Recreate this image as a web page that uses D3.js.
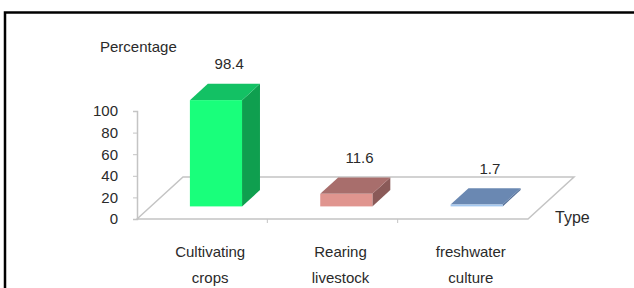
<!DOCTYPE html>
<html lang="en">
<head>
    <meta charset="UTF-8">
    <title>Percentage by Type</title>
    <script src="https://cdn.jsdelivr.net/npm/d3@7"></script>
    <style>
        body { margin: 0; background: #fff; }
        text { font-family: "Liberation Sans", Arial, sans-serif; fill: #2a2a2a; }
    </style>
</head>
<body>
    <script>
        // data
        const categories = ['Cultivating crops', 'Rearing livestock', 'freshwater culture']
        const labelLines = [['Cultivating', 'crops'], ['Rearing', 'livestock'], ['freshwater', 'culture']]
        const values = [98.4, 11.6, 1.7]
        const yTicks = [0, 20, 40, 60, 80, 100]

        const faceColors = [
            { front: '#19ff7b', top: '#13c164', side: '#0f9f4f' },
            { front: '#e0958f', top: '#a86e6c', side: '#8a5a58' },
            { front: '#a4c8f0', top: '#6a88b2', side: '#56719a' }
        ]

        const w = 634
        const h = 288

        // floor depth (front-left -> back-left)
        const depth = { dx: 46, dy: -42 }
        // bars sit between these fractions of the floor depth
        const barFront = 0.3
        const barBack = 0.69

        const svg = d3.select('body').append('svg')
            .attr('width', w)
            .attr('height', h)

        // outer frame
        svg.append('rect')
            .attr('x', 5).attr('y', 12.5)
            .attr('width', 800).attr('height', 400)
            .attr('fill', 'none')
            .attr('stroke', '#000')
            .attr('stroke-width', 2.5)

        const xScale = d3.scaleBand()
            .domain(categories)
            .range([137, 528])

        const yScale = d3.scaleLinear()
            .domain([0, 100])
            .range([219, 111])

        const floorY = yScale(0)
        const x0 = xScale.range()[0]
        const x1 = xScale.range()[1]

        // floor outline
        const floor = [
            [x0, floorY],
            [x0 + depth.dx, floorY + depth.dy],
            [x1 + depth.dx, floorY + depth.dy],
            [x1, floorY]
        ]
        svg.append('path')
            .attr('d', 'M' + floor.join('L') + 'Z')
            .attr('fill', 'none')
            .attr('stroke', '#c4c4c4')
            .attr('stroke-width', 1.5)

        // category separators on the front edge
        svg.selectAll('.xtick')
            .data(categories.slice(1))
            .enter()
            .append('line')
            .attr('x1', d => xScale(d)).attr('x2', d => xScale(d))
            .attr('y1', floorY).attr('y2', floorY + 4)
            .attr('stroke', '#c4c4c4')

        // vertical axis
        const yAxis = d3.axisLeft(yScale)
            .tickValues(yTicks)
            .tickSize(4)
            .tickPadding(15)
        const gy = svg.append('g')
            .attr('transform', 'translate(' + x0 + ',0)')
            .call(yAxis)
        gy.select('.domain').attr('stroke', '#c4c4c4').attr('stroke-width', 1.5)
        gy.selectAll('.tick line').attr('stroke', '#c4c4c4')
        gy.selectAll('.tick text')
            .style('font-size', '15px')
            .style('font-family', '"Liberation Sans", Arial, sans-serif')
            .attr('fill', '#2a2a2a')

        // 3d bars
        const bw = xScale.bandwidth() * 0.4
        const bars = svg.selectAll('.bar')
            .data(values)
            .enter()
            .append('g')
            .attr('class', 'bar')

        function geom(v, i) {
            const cx = xScale(categories[i]) + xScale.bandwidth() / 2
            const fx = cx + depth.dx * barFront - bw / 2
            const fy = floorY + depth.dy * barFront
            const hgt = floorY - yScale(v)
            const ox = depth.dx * (barBack - barFront)
            const oy = depth.dy * (barBack - barFront)
            return { fx, fy, hgt, ox, oy, top: fy - hgt }
        }

        bars.append('path')
            .attr('fill', (d, i) => faceColors[i].side)
            .attr('d', (d, i) => {
                const g = geom(d, i)
                const r = g.fx + bw
                return 'M' + [[r, g.fy], [r, g.top], [r + g.ox, g.top + g.oy], [r + g.ox, g.fy + g.oy]].join('L') + 'Z'
            })

        bars.append('path')
            .attr('fill', (d, i) => faceColors[i].top)
            .attr('d', (d, i) => {
                const g = geom(d, i)
                return 'M' + [[g.fx, g.top], [g.fx + bw, g.top], [g.fx + bw + g.ox, g.top + g.oy], [g.fx + g.ox, g.top + g.oy]].join('L') + 'Z'
            })

        bars.append('rect')
            .attr('fill', (d, i) => faceColors[i].front)
            .attr('x', (d, i) => geom(d, i).fx)
            .attr('y', (d, i) => geom(d, i).top)
            .attr('width', bw)
            .attr('height', (d, i) => Math.max(geom(d, i).hgt, 1.5))

        // value labels
        svg.selectAll('.value')
            .data(values)
            .enter()
            .append('text')
            .attr('class', 'value')
            .attr('x', (d, i) => xScale(categories[i]) + xScale.bandwidth() / 2 + 27)
            .attr('y', (d, i) => geom(d, i).top - 31)
            .attr('text-anchor', 'middle')
            .style('font-size', '15px')
            .text(d => d)

        // category labels (two lines)
        const cat = svg.selectAll('.cat')
            .data(labelLines)
            .enter()
            .append('text')
            .attr('class', 'cat')
            .attr('text-anchor', 'middle')
            .style('font-size', '15px')
        cat.selectAll('tspan')
            .data((d, i) => d.map(t => ({ t, i })))
            .enter()
            .append('tspan')
            .attr('x', d => xScale(categories[d.i]) + xScale.bandwidth() / 2 + 8)
            .attr('y', (d, j) => 257 + j * 26)
            .text(d => d.t)

        // axis titles
        svg.append('text')
            .attr('x', 100).attr('y', 52)
            .style('font-size', '15px')
            .text('Percentage')

        svg.append('text')
            .attr('x', 555).attr('y', 223)
            .style('font-size', '16px')
            .text('Type')
    </script>
</body>
</html>
